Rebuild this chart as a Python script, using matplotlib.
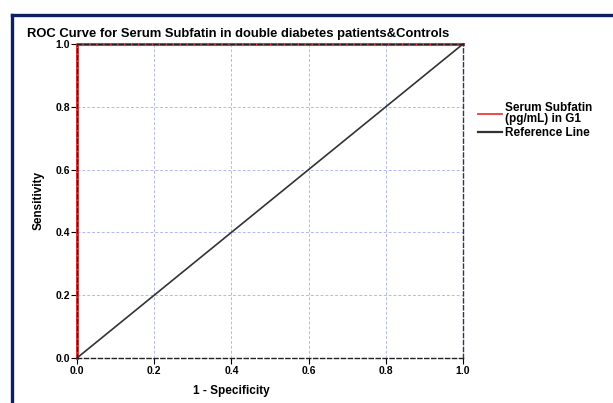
import matplotlib
matplotlib.use('Agg')
from matplotlib import pyplot as plt
from matplotlib.lines import Line2D

plt.rcParams['font.family'] = ['Liberation Sans', 'DejaVu Sans']

# ROC curve points
roc_fpr = [0.0, 0.0, 1.0]
roc_tpr = [0.0, 1.0, 1.0]
ref_x = [0.0, 1.0]
ref_y = [0.0, 1.0]
ticks = [0.0, 0.2, 0.4, 0.6, 0.8, 1.0]
tick_labels = ['0.0', '0.2', '0.4', '0.6', '0.8', '1.0']

fig = plt.figure(figsize=(6.13, 4.03), dpi=100)
ax = fig.add_axes([0.1256, 0.1117, 0.6297, 0.7791])

# navy frame on top and left
fig.add_artist(Line2D([0.019, 1.0], [0.963, 0.963], transform=fig.transFigure,
                      color='#0b2160', lw=2.4))
fig.add_artist(Line2D([0.019, 0.019], [0.0, 0.963], transform=fig.transFigure,
                      color='#0b2160', lw=2.4))

ax.grid(True, color='#b4b8f4', linestyle=(0, (3, 2)), linewidth=0.7)
ax.set_axisbelow(True)

ax.plot(roc_fpr, roc_tpr, color='#f03a3a', lw=2.2, clip_on=False, zorder=3)
ax.plot(ref_x, ref_y, color='#333333', lw=1.2, clip_on=False, zorder=4)

for s in ax.spines.values():
    s.set_linestyle((0, (3, 2)))
    s.set_linewidth(1.0)
    s.set_color('#222222')
    s.set_zorder(5)
ax.spines['right'].set_color('#333355')

ax.set_xlim(0, 1)
ax.set_ylim(0, 1)
ax.set_xticks(ticks)
ax.set_xticklabels(tick_labels, fontweight='bold', fontsize=7.5)
ax.set_yticks(ticks)
ax.set_yticklabels(tick_labels, fontweight='bold', fontsize=7.5)
ax.tick_params(length=4, width=0.8, pad=1)
ax.tick_params(axis='x', pad=2)

ax.set_xlabel('1 - Specificity', fontweight='bold', fontsize=8.5)
ax.xaxis.set_label_coords(0.399, -0.085)
ax.set_ylabel('Sensitivity', fontweight='bold', fontsize=8.5)
ax.yaxis.set_label_coords(-0.083, 0.5)

fig.text(0.044, 0.908, 'ROC Curve for Serum Subfatin in double diabetes patients&Controls',
         fontweight='bold', fontsize=9.4)

handles = [Line2D([], [], color='#f03a3a', lw=1.3),
           Line2D([], [], color='#333333', lw=1.6)]
labels = ['Serum Subfatin\n(pg/mL) in G1', 'Reference Line']
leg = ax.legend(handles, labels, loc='upper left', bbox_to_anchor=(1.027, 0.83), frameon=False,
                prop={'weight': 'bold', 'size': 8.5}, handlelength=2.0,
                handletextpad=0.3, labelspacing=0.15, borderaxespad=0)
for t in leg.get_texts():
    t.set_linespacing(0.9)

fig.savefig('out.png', dpi=100)
